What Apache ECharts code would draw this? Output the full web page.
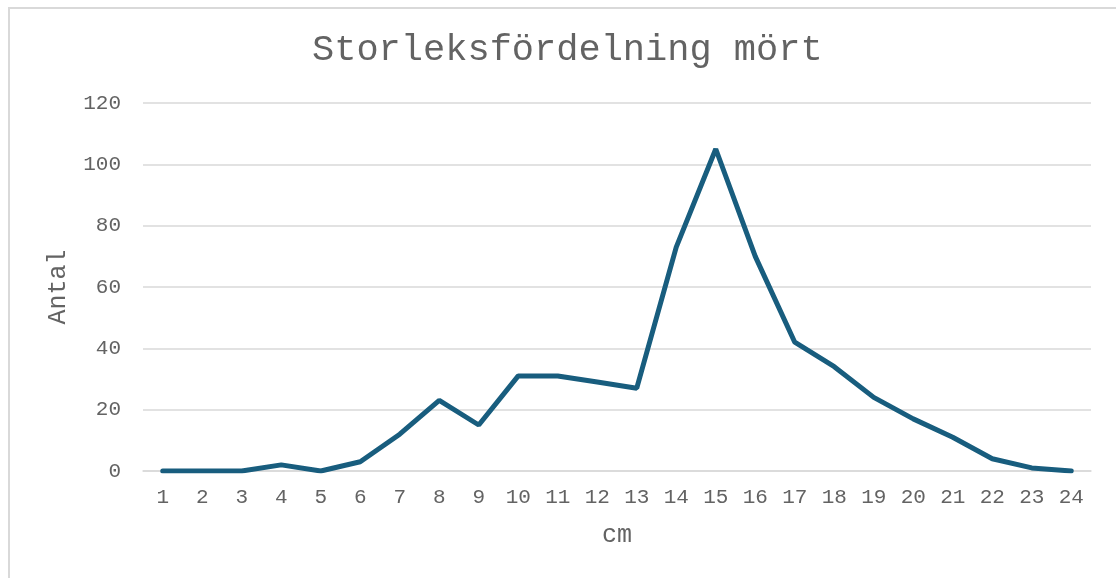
<!DOCTYPE html>
<html>
<head>
<meta charset="utf-8">
<script src="https://cdn.jsdelivr.net/npm/echarts@6/dist/echarts.min.js"></script>
<style>
html,body{margin:0;padding:0;background:#fff;}
#frame{position:absolute;left:8px;top:7px;width:1200px;height:700px;border-top:2px solid #d9d9d9;border-left:2px solid #d9d9d9;}
#main{position:absolute;left:0;top:0;width:1116px;height:578px;}
</style>
</head>
<body>
<div id="frame"></div>
<div id="main"></div>
<script>
// storlek i cm
var categories = ['1','2','3','4','5','6','7','8','9','10','11','12','13','14','15','16','17','18','19','20','21','22','23','24'];
// antal fiskar per storlek
var antal = [0, 0, 0, 2, 0, 3, 12, 23, 15, 31, 31, 29, 27, 73, 105, 70, 42, 34, 24, 17, 11, 4, 1, 0];
var yTicks = [0, 20, 40, 60, 80, 100, 120];

var font = 'Liberation Mono, Courier New, monospace';
var grey = '#636363';

var option = {
	animation: false,
	title: {
		text: 'Storleksfördelning mört',
		left: 307,
		top: 27,
		textStyle: {fontFamily: font, fontSize: 37, fontWeight: 'normal', color: grey}
	},
	grid: {left: 143, right: 25, top: 103, bottom: 107},
	xAxis: {
		type: 'category',
		data: categories,
		boundaryGap: true,
		name: 'cm',
		nameLocation: 'middle',
		nameGap: 52,
		nameTextStyle: {fontFamily: font, fontSize: 25, color: grey},
		axisLine: {lineStyle: {color: '#d9d9d9', width: 1.5}},
		axisTick: {show: false},
		axisLabel: {fontFamily: font, fontSize: 21, color: grey, margin: 16, interval: 0}
	},
	yAxis: {
		type: 'value',
		min: yTicks[0],
		max: yTicks[yTicks.length - 1],
		interval: 20,
		name: 'Antal',
		nameLocation: 'middle',
		nameGap: 72,
		nameRotate: 90,
		nameTextStyle: {fontFamily: font, fontSize: 25, color: grey},
		axisLine: {show: false},
		axisTick: {show: false},
		axisLabel: {fontFamily: font, fontSize: 21, color: grey, margin: 22},
		splitLine: {lineStyle: {color: '#d9d9d9', width: 1.5}}
	},
	series: [{
		name: 'Antal',
		type: 'line',
		data: antal,
		symbol: 'none',
		lineStyle: {color: '#185d7e', width: 5, cap: 'round'}
	}]
};
echarts.init(document.getElementById('main')).setOption(option);
</script>
</body>
</html>
